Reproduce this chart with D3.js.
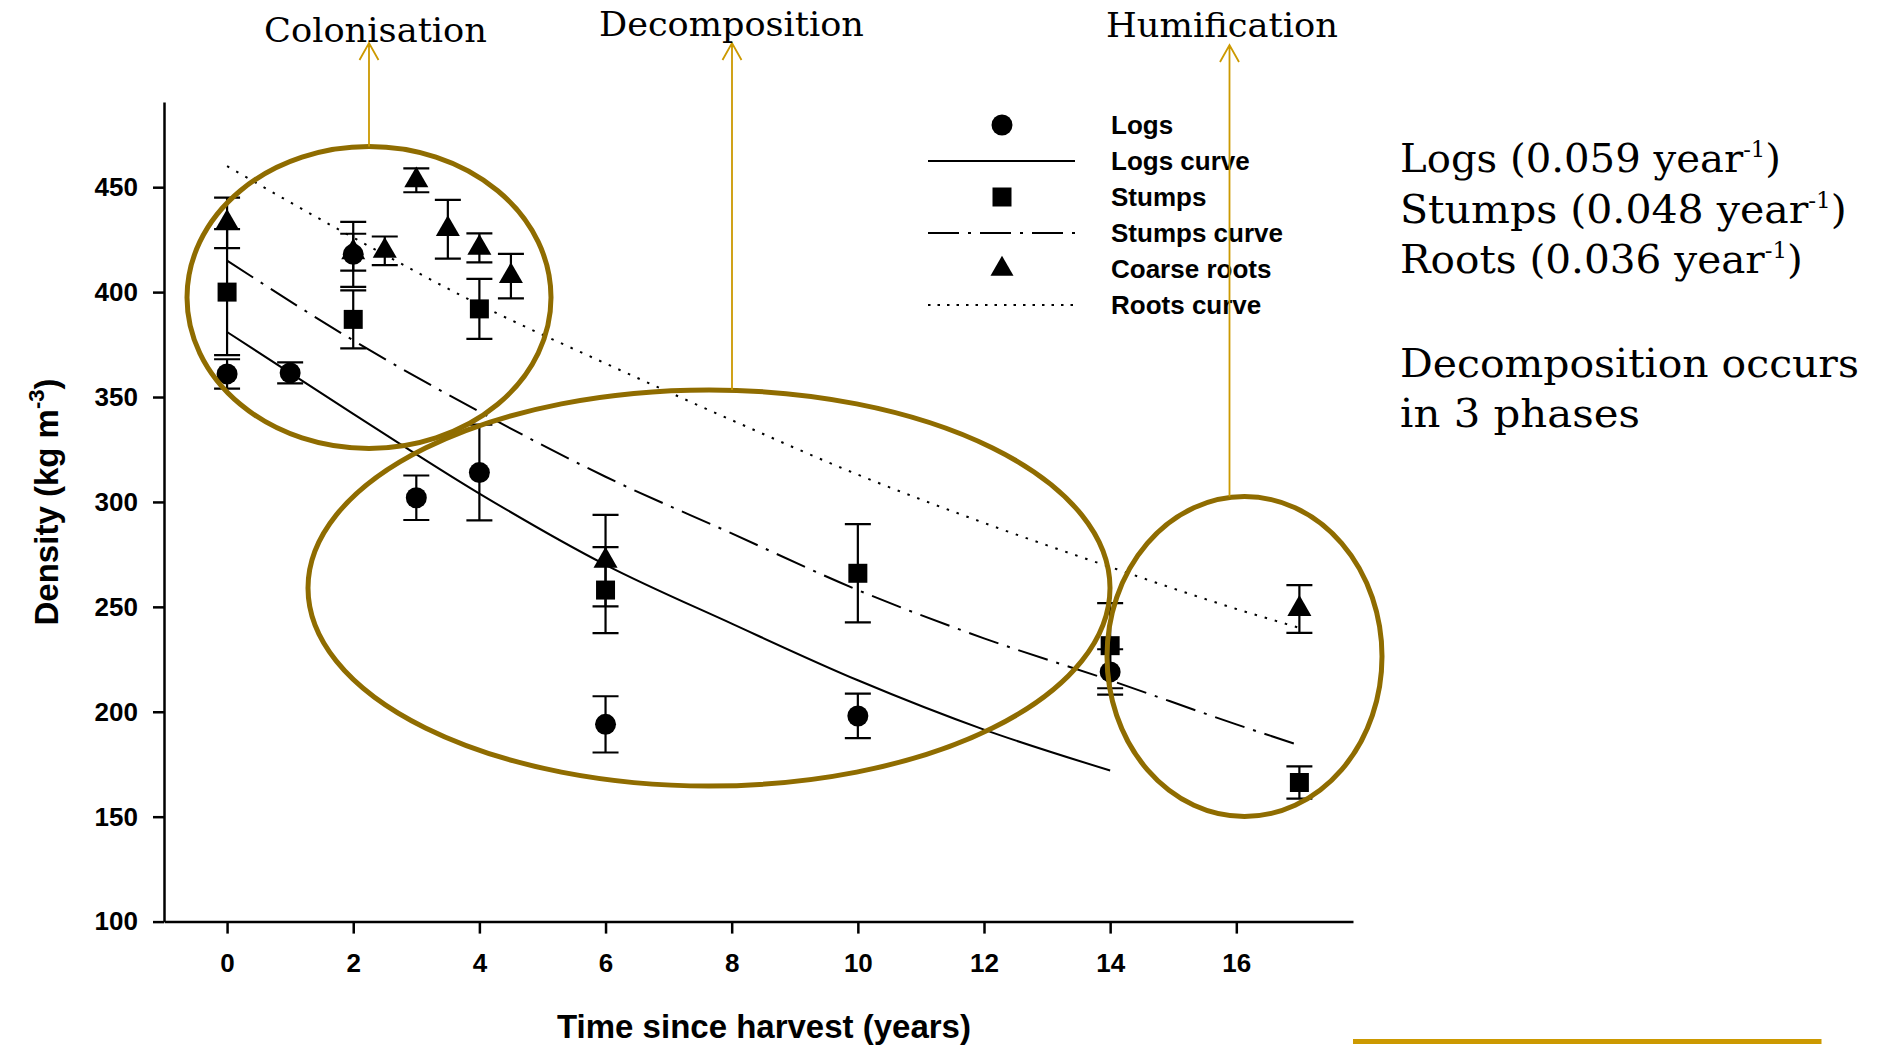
<html><head>
  <script src="https://d3js.org/d3.v7.min.js"></script>
  <style>
    body { margin: 0; background: #fff; }
    .axis text { font-family: 'Liberation Sans', Arial, sans-serif; font-weight: bold; font-size: 26px; fill: #000; }
    .axis path, .axis line { stroke: #000; stroke-width: 2.5; }
    .sans { font-family: 'Liberation Sans', Arial, sans-serif; font-weight: bold; fill: #000; }
    .serif { font-family: 'DejaVu Serif', serif; fill: #000; }
  </style>
</head>
<body>
<script>
  // Measured means and standard errors (kg m-3) by years since harvest
  const logsYears = [0, 1, 2, 3, 4, 6, 10, 14];
  const logsDensity = [361, 361.5, 418, 302, 314, 194, 198, 219];
  const logsSE = [7, 5, 15.5, 10.6, 22.8, 13.4, 10.6, 10.8];

  const stumpsYears = [0, 2, 4, 6, 10, 14, 17];
  const stumpsDensity = [400, 387, 392, 258, 266, 231.5, 166.3];
  const stumpsSE = [30, 13.8, 14.3, 20.5, 23.4, 20.3, 7.7];

  const rootsYears = [0, 2, 2.5, 3, 3.5, 4, 4.5, 6, 17];
  const rootsDensity = [433, 419, 419.7, 453.3, 430, 421.1, 407.6, 272, 249];
  const rootsSE = [12, 8.8, 6.8, 5.7, 14, 6.9, 10.6, 21.8, 11.4];

  // Fitted decay curves
  const logsCurveYears = [0, 2, 4, 6, 8, 10, 12, 14];
  const logsCurve = [381, 342, 304, 270, 242, 215, 191.5, 172];
  const stumpsCurveYears = [0, 2, 4, 6, 8, 10, 12, 14, 16, 17];
  const stumpsCurve = [415, 377, 343, 312, 285, 258, 235, 215, 194, 184];
  const rootsCurveYears = [0, 2, 4, 6, 8, 10, 12, 14, 16, 17];
  const rootsCurve = [460, 426, 394, 366, 339, 313, 290, 269, 249, 240];

  const xTicks = [0, 2, 4, 6, 8, 10, 12, 14, 16];
  const yTicks = [100, 150, 200, 250, 300, 350, 400, 450];

  const legendLabels = ["Logs", "Logs curve", "Stumps", "Stumps curve", "Coarse roots", "Roots curve"];
  const phaseLabels = ["Colonisation", "Decomposition", "Humification"];
  const rateNames = ["Logs", "Stumps", "Roots"];
  const rateValues = ["0.059", "0.048", "0.036"];
  const noteLines = ["Decomposition occurs", "in 3 phases"];

  const W = 1881, H = 1046;
  const svg = d3.select("body").append("svg")
    .attr("width", W).attr("height", H)
    .style("background", "#fff");

  const x = d3.scaleLinear().domain([-1, 17.85]).range([164, 1353]);
  const y = d3.scaleLinear().domain([100, 490.6]).range([921.6, 102]);

  const gold = "#8f6c00";
  const arrowGold = "#cc9900";

  // axes
  svg.append("g").attr("class", "axis")
    .attr("transform", `translate(164,0)`)
    .call(d3.axisLeft(y).tickValues(yTicks).tickSize(11).tickSizeOuter(0).tickPadding(15));
  svg.append("g").attr("class", "axis")
    .attr("transform", `translate(0,921.6)`)
    .call(d3.axisBottom(x).tickValues(xTicks).tickSize(12).tickSizeOuter(0).tickPadding(20));

  svg.append("text").attr("class", "sans")
    .attr("x", 764).attr("y", 1038)
    .attr("text-anchor", "middle").style("font-size", "33px")
    .text("Time since harvest (years)");

  const yTitle = svg.append("text").attr("class", "sans")
    .attr("transform", "translate(58,502) rotate(-90)")
    .attr("text-anchor", "middle").style("font-size", "33px");
  yTitle.append("tspan").text("Density (kg m");
  yTitle.append("tspan").attr("dy", -14).style("font-size", "22px").text("-3");
  yTitle.append("tspan").attr("dy", 14).text(")");

  // curves
  const line = d3.line().x(d => x(d[0])).y(d => y(d[1])).curve(d3.curveMonotoneX);
  const curves = [
    {years: logsCurveYears, vals: logsCurve, dash: null},
    {years: stumpsCurveYears, vals: stumpsCurve, dash: "31,9,3,9"},
    {years: rootsCurveYears, vals: rootsCurve, dash: "2.5,8"}
  ];
  curves.forEach(c => {
    svg.append("path")
      .attr("d", line(c.years.map((t, i) => [t, c.vals[i]])))
      .attr("fill", "none").attr("stroke", "#000").attr("stroke-width", 2)
      .attr("stroke-dasharray", c.dash);
  });

  // error bars + markers
  const series = [
    {years: rootsYears, vals: rootsDensity, se: rootsSE, sym: d3.symbolTriangle, size: 250},
    {years: stumpsYears, vals: stumpsDensity, se: stumpsSE, sym: d3.symbolSquare, size: 361},
    {years: logsYears, vals: logsDensity, se: logsSE, sym: d3.symbolCircle, size: 346}
  ];
  series.forEach(s => {
    const pts = s.years.map((t, i) => ({t: t, v: s.vals[i], e: s.se[i]}));
    svg.append("g").selectAll("path").data(pts).join("path")
      .attr("d", d => {
        const cx = x(d.t), hi = y(d.v + d.e), lo = y(d.v - d.e);
        return `M${cx},${hi}V${lo}M${cx - 13},${hi}h26M${cx - 13},${lo}h26`;
      })
      .attr("fill", "none").attr("stroke", "#000").attr("stroke-width", 2.2);
  });
  series.forEach(s => {
    const pts = s.years.map((t, i) => ({t: t, v: s.vals[i]}));
    svg.append("g").selectAll("path").data(pts).join("path")
      .attr("transform", d => `translate(${x(d.t)},${y(d.v)})`)
      .attr("d", d3.symbol(s.sym, s.size)())
      .attr("fill", "#000");
  });

  // legend
  const legend = svg.append("g");
  const legendStyle = [
    {sym: d3.symbolCircle, size: 346},
    {dash: null},
    {sym: d3.symbolSquare, size: 361},
    {dash: "31,9,3,9"},
    {sym: d3.symbolTriangle, size: 230},
    {dash: "2.5,7"}
  ];
  legendLabels.forEach((lab, i) => {
    const cy = 125 + i * 36;
    const st = legendStyle[i];
    if (st.sym) {
      legend.append("path").attr("transform", `translate(1002,${cy})`)
        .attr("d", d3.symbol(st.sym, st.size)()).attr("fill", "#000");
    } else {
      legend.append("line").attr("x1", 928).attr("x2", 1075).attr("y1", cy).attr("y2", cy)
        .attr("stroke", "#000").attr("stroke-width", 2).attr("stroke-dasharray", st.dash);
    }
    legend.append("text").attr("class", "sans")
      .attr("x", 1111).attr("y", cy + 9).style("font-size", "26px").text(lab);
  });

  // ellipses around the phases
  const ellipses = [
    {cx: 369, cy: 297.5, rx: 182, ry: 151},
    {cx: 709, cy: 588, rx: 401, ry: 198},
    {cx: 1244.5, cy: 656.5, rx: 137.5, ry: 160}
  ];
  svg.append("g").selectAll("ellipse").data(ellipses).join("ellipse")
    .attr("cx", d => d.cx).attr("cy", d => d.cy)
    .attr("rx", d => d.rx).attr("ry", d => d.ry)
    .attr("fill", "none").attr("stroke", gold).attr("stroke-width", 5);

  // fit serif text to measured width
  function fitText(sel, x0, baseline, width) {
    const bb = sel.node().getBBox();
    const k = width / bb.width;
    sel.attr("transform", `translate(${x0 - bb.x * k},${baseline}) scale(${k},1)`);
  }

  // arrows + phase labels
  const arrowLayout = [
    {x: 369, top: 43, labelLeft: 264, labelW: 223, base: 42},
    {x: 732, top: 43, labelLeft: 599, labelW: 265, base: 36},
    {x: 1229.5, top: 45, labelLeft: 1106, labelW: 232, base: 37}
  ];
  phaseLabels.forEach((lab, i) => {
    const a = arrowLayout[i], e = ellipses[i];
    svg.append("path")
      .attr("d", `M${a.x},${e.cy - e.ry}V${a.top}M${a.x - 9.5},${a.top + 17}L${a.x},${a.top}L${a.x + 9.5},${a.top + 17}`)
      .attr("fill", "none").attr("stroke", arrowGold).attr("stroke-width", 1.8);
    const t = svg.append("text").attr("class", "serif").style("font-size", "34px").text(lab);
    fitText(t, a.labelLeft, a.base, a.labelW);
  });

  // decay rates
  const rateW = [381, 447, 403];
  rateNames.forEach((n, i) => {
    const t = svg.append("text").attr("class", "serif").style("font-size", "39px");
    t.append("tspan").text(`${n} (${rateValues[i]} year`);
    t.append("tspan").attr("dy", -15).style("font-size", "22px").text("-1");
    t.append("tspan").attr("dy", 15).text(")");
    fitText(t, 1400, 172 + i * 50.5, rateW[i]);
  });
  const noteW = [459, 240];
  noteLines.forEach((n, i) => {
    const t = svg.append("text").attr("class", "serif").style("font-size", "39px").text(n);
    fitText(t, 1400, 377 + i * 50, noteW[i]);
  });

  // gold rule bottom right
  svg.append("line").attr("x1", 1353).attr("x2", 1821.5).attr("y1", 1041.5).attr("y2", 1041.5)
    .attr("stroke", arrowGold).attr("stroke-width", 5);
</script>
</body></html>
